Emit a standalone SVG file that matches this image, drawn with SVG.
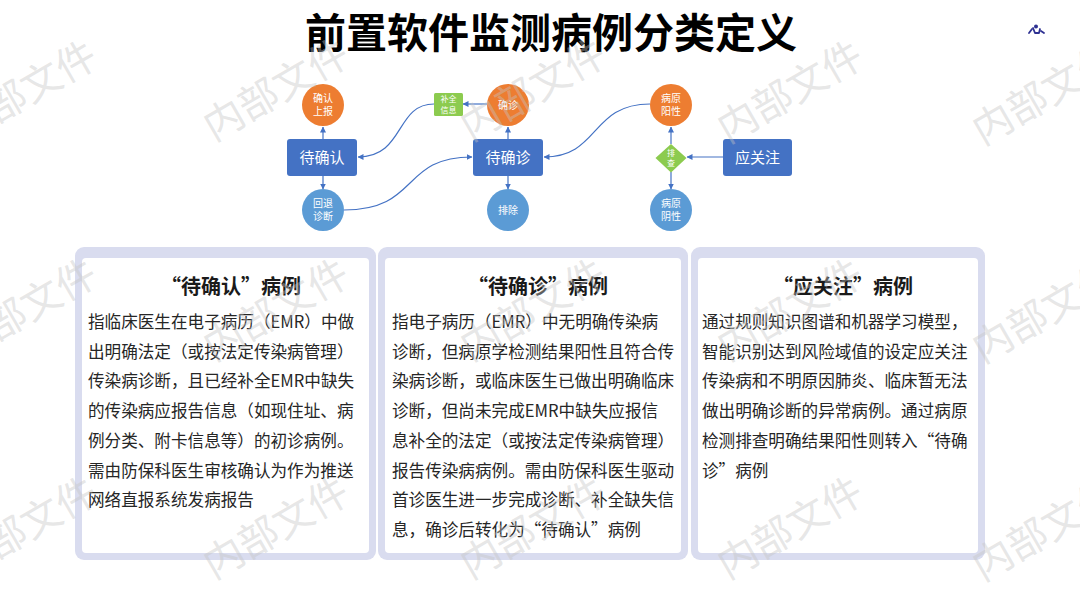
<svg xmlns="http://www.w3.org/2000/svg" width="1080" height="608" viewBox="0 0 1080 608">
<style>
.cjk{font-family:"Noto Sans CJK SC","Noto Sans",sans-serif}
.ttl{font-size:41px;font-weight:700;fill:#000}
.box{fill:#4472C4}
.boxt{font-size:15px;fill:#fff;text-anchor:middle}
.org{fill:#ED7D31}
.blu{fill:#5B9BD5}
.grn{fill:#8CCB4F}
.ct{font-size:10px;fill:#fff;text-anchor:middle}
.st{font-size:8px}
.ln{fill:none;stroke:#4472C4;stroke-width:1.2;marker-end:url(#ah)}
.pout{fill:#D9DCEF}
.pin{fill:#fff}
.ph{font-size:20px;font-weight:700;fill:#1a1a1a;text-anchor:middle}
.pb{font-size:16.6px;fill:#262626}
.wm{font-size:40px;fill:#c4c4c4;fill-opacity:0.42;text-anchor:middle}
</style>
<defs>
<marker id="ah" markerUnits="userSpaceOnUse" markerWidth="6" markerHeight="6" refX="5.5" refY="3" orient="auto">
<path d="M0,0 L6,3 L0,6 z" fill="#4472C4"/>
</marker>
</defs>
<rect width="1080" height="608" fill="#fff"/>
<text class="cjk ttl" x="551" y="48" text-anchor="middle">前置软件监测病例分类定义</text>
<g id="logo" fill="none" stroke="#2E3192" stroke-width="1.8" stroke-linecap="round" stroke-linejoin="round">
<path d="M1029,33 L1032,29"/>
<path d="M1033,28 L1035,33 L1039,33 L1040,29"/>
<path d="M1041,31 L1044,33"/>
<circle cx="1036" cy="26.5" r="1.1" fill="#2E3192"/>
</g>
<g id="connectors">
<path class="ln" d="M323,139 L323,127"/>
<path class="ln" d="M323,176 L323,189"/>
<path class="ln" d="M508,139 L508,127"/>
<path class="ln" d="M508,176 L508,189"/>
<path class="ln" d="M487,104 L463,104"/>
<path class="ln" d="M434,104 C395,104 405,157 358,157"/>
<path class="ln" d="M344,210 C420,210 400,157 472,157"/>
<path class="ln" d="M650,104 C590,104 600,157 544,157"/>
<path class="ln" d="M723,157 L687,157"/>
<path class="ln" d="M671,144 L671,127"/>
<path class="ln" d="M671,172 L671,189"/>
</g>
<g id="n-daiqueren"><rect class="box" x="287" y="139" width="70" height="37" rx="3"/><text class="cjk boxt" x="322" y="162.5">待确认</text></g>
<g id="n-daiquezhen"><rect class="box" x="473" y="139" width="70" height="37" rx="3"/><text class="cjk boxt" x="508" y="162.5">待确诊</text></g>
<g id="n-yingguanzhu"><rect class="box" x="723" y="139" width="69" height="37" rx="3"/><text class="cjk boxt" x="757.5" y="162.5">应关注</text></g>
<g id="n-querenshangbao"><circle class="org" cx="323" cy="105" r="21"/><text class="cjk ct" x="323" y="101.5">确认</text><text class="cjk ct" x="323" y="114.5">上报</text></g>
<g id="n-huitui"><circle class="blu" cx="323" cy="210" r="21"/><text class="cjk ct" x="323" y="206.5">回退</text><text class="cjk ct" x="323" y="219.5">诊断</text></g>
<g id="n-buquan"><rect class="grn" x="434" y="93" width="29" height="23" rx="1.5"/><text class="cjk ct st" x="448.5" y="102">补全</text><text class="cjk ct st" x="448.5" y="112.5">信息</text></g>
<g id="n-quezhen"><circle class="org" cx="508" cy="105" r="21"/><text class="cjk ct" x="508" y="108.5">确诊</text></g>
<g id="n-paichu"><circle class="blu" cx="508" cy="210" r="21"/><text class="cjk ct" x="508" y="213.5">排除</text></g>
<g id="n-yangxing"><circle class="org" cx="671" cy="105" r="21"/><text class="cjk ct" x="671" y="101.5">病原</text><text class="cjk ct" x="671" y="114.5">阳性</text></g>
<g id="n-yinxing"><circle class="blu" cx="671" cy="210" r="21"/><text class="cjk ct" x="671" y="206.5">病原</text><text class="cjk ct" x="671" y="219.5">阴性</text></g>
<g id="n-paicha"><path class="grn" d="M671,144 L686.5,158 L671,172.5 L655.5,158 z"/><text class="cjk ct st" x="671" y="156">排</text><text class="cjk ct st" x="671" y="166">查</text></g>
<g id="panel1">
<rect class="pout" x="75" y="247" width="301" height="313" rx="9"/>
<rect class="pin" x="82" y="258" width="287" height="295" rx="4"/>
<text class="cjk ph" x="231" y="294">“待确认”病例</text>
<text class="cjk pb" x="88" y="328">指临床医生在电子病历（EMR）中做<tspan x="88" dy="29.7">出明确法定（或按法定传染病管理）</tspan><tspan x="88" dy="29.7">传染病诊断，且已经补全EMR中缺失</tspan><tspan x="88" dy="29.7">的传染病应报告信息（如现住址、病</tspan><tspan x="88" dy="29.7">例分类、附卡信息等）的初诊病例。</tspan><tspan x="88" dy="29.7">需由防保科医生审核确认为作为推送</tspan><tspan x="88" dy="29.7">网络直报系统发病报告</tspan></text>
</g>
<g id="panel2">
<rect class="pout" x="378" y="247" width="310" height="313" rx="9"/>
<rect class="pin" x="385" y="258" width="296" height="295" rx="4"/>
<text class="cjk ph" x="538" y="294">“待确诊”病例</text>
<text class="cjk pb" x="392" y="328">指电子病历（EMR）中无明确传染病<tspan x="392" dy="29.7">诊断，但病原学检测结果阳性且符合传</tspan><tspan x="392" dy="29.7">染病诊断，或临床医生已做出明确临床</tspan><tspan x="392" dy="29.7">诊断，但尚未完成EMR中缺失应报信</tspan><tspan x="392" dy="29.7">息补全的法定（或按法定传染病管理）</tspan><tspan x="392" dy="29.7">报告传染病病例。需由防保科医生驱动</tspan><tspan x="392" dy="29.7">首诊医生进一步完成诊断、补全缺失信</tspan><tspan x="392" dy="29.7">息，确诊后转化为“待确认”病例</tspan></text>
</g>
<g id="panel3">
<rect class="pout" x="691" y="247" width="294" height="313" rx="9"/>
<rect class="pin" x="698" y="258" width="280" height="295" rx="4"/>
<text class="cjk ph" x="843" y="294">“应关注”病例</text>
<text class="cjk pb" x="702" y="328">通过规则知识图谱和机器学习模型，<tspan x="702" dy="29.7">智能识别达到风险域值的设定应关注</tspan><tspan x="702" dy="29.7">传染病和不明原因肺炎、临床暂无法</tspan><tspan x="702" dy="29.7">做出明确诊断的异常病例。通过病原</tspan><tspan x="702" dy="29.7">检测排查明确结果阳性则转入“待确</tspan><tspan x="702" dy="29.7">诊”病例</tspan></text>
</g>
<g id="watermarks" class="cjk">
<text class="wm" transform="translate(31,104) rotate(-30)">内部文件</text>
<text class="wm" transform="translate(283,102) rotate(-30)">内部文件</text>
<text class="wm" transform="translate(540,102) rotate(-30)">内部文件</text>
<text class="wm" transform="translate(797,104) rotate(-30)">内部文件</text>
<text class="wm" transform="translate(1052,106) rotate(-30)">内部文件</text>
<text class="wm" transform="translate(31,322) rotate(-30)">内部文件</text>
<text class="wm" transform="translate(283,322) rotate(-30)">内部文件</text>
<text class="wm" transform="translate(540,322) rotate(-30)">内部文件</text>
<text class="wm" transform="translate(797,322) rotate(-30)">内部文件</text>
<text class="wm" transform="translate(1052,324) rotate(-30)">内部文件</text>
<text class="wm" transform="translate(31,540) rotate(-30)">内部文件</text>
<text class="wm" transform="translate(283,540) rotate(-30)">内部文件</text>
<text class="wm" transform="translate(540,540) rotate(-30)">内部文件</text>
<text class="wm" transform="translate(797,540) rotate(-30)">内部文件</text>
<text class="wm" transform="translate(1052,542) rotate(-30)">内部文件</text>
</g>
</svg>
